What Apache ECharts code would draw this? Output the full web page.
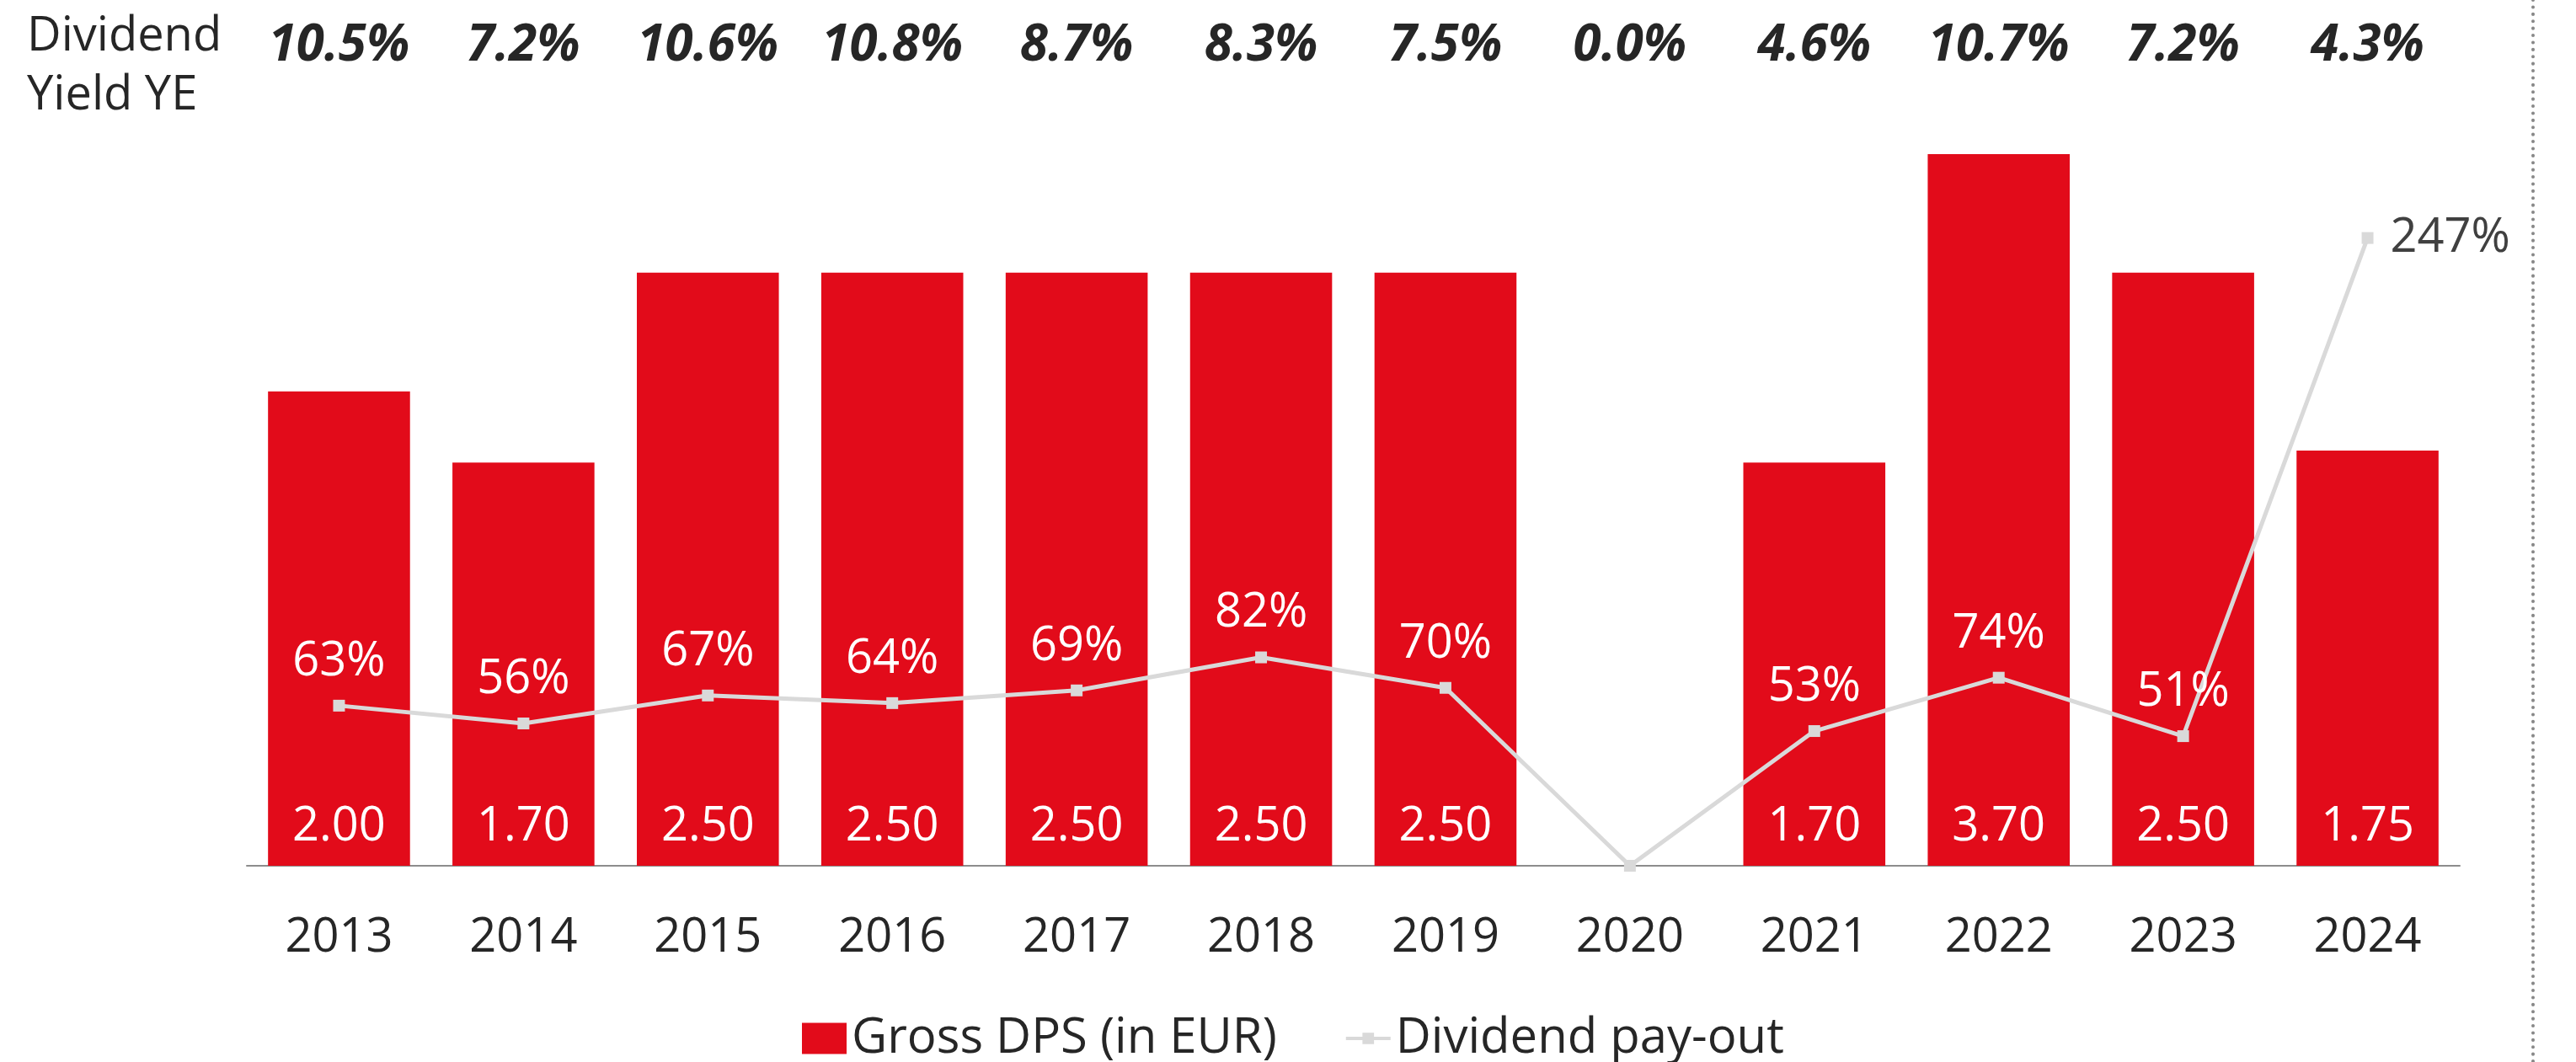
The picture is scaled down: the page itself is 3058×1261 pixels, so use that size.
<!DOCTYPE html>
<html lang="en">
<head>
  <meta charset="UTF-8">
  <title>Dividend</title>
  <script src="https://cdn.jsdelivr.net/npm/echarts@6/dist/echarts.min.js"></script>
</head>
<body>
  <style>
    html, body, #chart {
      width: 100%;
      height: 100%;
      margin: 0;
      padding: 0;
      background: #fff;
    }
  </style>
  <div id="chart"></div>
  <script>
    const years = ['2013', '2014', '2015', '2016', '2017', '2018', '2019', '2020', '2021', '2022', '2023', '2024']
    const grossDps = [2.00, 1.70, 2.50, 2.50, 2.50, 2.50, 2.50, 0, 1.70, 3.70, 2.50, 1.75]
    const payout = [63, 56, 67, 64, 69, 82, 70, 0, 53, 74, 51, 247]
    const yieldYE = [10.5, 7.2, 10.6, 10.8, 8.7, 8.3, 7.5, 0.0, 4.6, 10.7, 7.2, 4.3]

    const font = "'Open Sans', 'Noto Sans', sans-serif"
    const dark = '#262626'
    const red = '#e20b1a'
    const grey = '#d9d9d9'

    const chart = echarts.init(document.getElementById('chart'))

    // zero pay-out has no label, the last point is labelled on the right
    const payoutData = payout.map((v, i) => {
      const item = { value: v }
      if (v === 0) {
        item.label = { show: false }
      } else if (i === payout.length - 1) {
        item.label = { position: 'right', distance: 20, color: '#404040' }
      }
      return item
    })

    chart.setOption({
      animation: false,
      title: {
        text: 'Dividend\nYield YE',
        left: 32,
        top: 9,
        padding: 0,
        textStyle: {
          fontFamily: font,
          fontSize: 56,
          fontWeight: 'normal',
          lineHeight: 70,
          color: dark
        }
      },
      legend: {
        top: 1204,
        left: 952,
        padding: 0,
        itemGap: 82,
        itemWidth: 53,
        itemHeight: 37,
        textStyle: {
          fontFamily: font,
          fontSize: 58,
          color: dark,
          padding: [0, 0, 0, 1]
        },
        data: [
          { name: 'Gross DPS (in EUR)', icon: 'rect' },
          { name: 'Dividend pay-out', icon: 'path://M0,5 L54,5 L54,9 L0,9 Z M20,0 L34,0 L34,14 L20,14 Z' }
        ]
      },
      grid: {
        left: 293,
        right: 138,
        top: 183,
        bottom: 233
      },
      xAxis: [
        {
          type: 'category',
          data: years,
          axisLine: { lineStyle: { color: '#8c8c8c', width: 2 } },
          axisTick: { show: false },
          axisLabel: {
            fontFamily: font,
            fontSize: 56,
            color: dark,
            margin: 58
          }
        },
        {
          type: 'category',
          position: 'top',
          data: yieldYE.map(v => v.toFixed(1) + '%'),
          axisLine: { show: false },
          axisTick: { show: false },
          axisLabel: {
            interval: 0,
            hideOverlap: false,
            fontFamily: font,
            fontSize: 60,
            fontWeight: 'bold',
            fontStyle: 'italic',
            lineHeight: 60,
            color: dark,
            margin: 98
          }
        }
      ],
      yAxis: [
        { type: 'value', min: 0, max: 3, show: false },
        { type: 'value', min: 0, max: 280, show: false }
      ],
      series: [
        {
          name: 'Gross DPS (in EUR)',
          type: 'bar',
          xAxisIndex: 0,
          yAxisIndex: 0,
          barWidth: '77%',
          clip: true,
          itemStyle: { color: red },
          label: {
            show: true,
            position: 'insideBottom',
            distance: 18,
            fontFamily: font,
            fontSize: 56,
            color: '#fff',
            formatter: p => (p.value ? p.value.toFixed(2) : '')
          },
          data: grossDps
        },
        {
          name: 'Dividend pay-out',
          type: 'line',
          xAxisIndex: 0,
          yAxisIndex: 1,
          symbol: 'rect',
          symbolSize: 14,
          lineStyle: { color: grey, width: 5 },
          itemStyle: { color: grey },
          label: {
            show: true,
            position: 'top',
            distance: 17,
            fontFamily: font,
            fontSize: 56,
            color: '#fff',
            formatter: '{c}%'
          },
          z: 3,
          data: payoutData
        }
      ],
      graphic: [
        {
          type: 'line',
          shape: { x1: 3007, y1: 0, x2: 3007, y2: 1261 },
          style: { stroke: '#888', lineWidth: 4, lineDash: [0.1, 8.3], lineCap: 'round' }
        }
      ]
    })
  </script>
</body>
</html>
